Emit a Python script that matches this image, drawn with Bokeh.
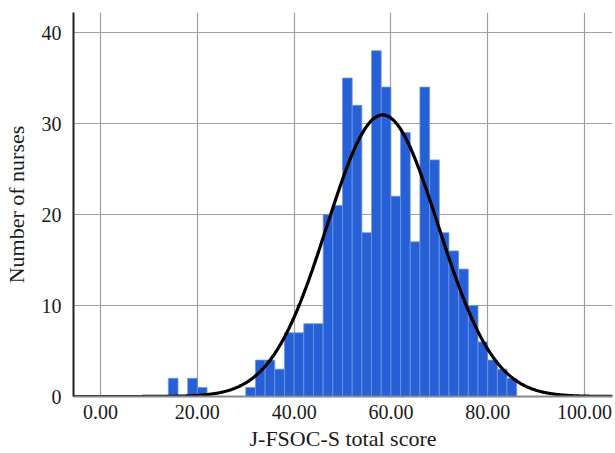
import numpy as np
from bokeh.plotting import figure
from bokeh.models import FixedTicker, PrintfTickFormatter, Range1d
from bokeh.embed import file_html
from bokeh.resources import INLINE

# ---- data ----
bin_width = 2
bin_left = [14, 18, 20, 30, 32, 34, 36, 38, 40, 42, 44, 46, 48, 50, 52, 54, 56,
            58, 60, 62, 64, 66, 68, 70, 72, 74, 76, 78, 80, 82, 84]
counts = [2, 2, 1, 1, 4, 4, 3, 7, 7, 8, 8, 20, 21, 35, 32, 18, 38,
          34, 22, 29, 17, 34, 26, 18, 16, 14, 10, 6, 4, 3, 2]
x_ticks = [0, 20, 40, 60, 80, 100]
y_ticks = [0, 10, 20, 30, 40]
fit_mean = 58.3
fit_sd = 11.5

x_lo, x_hi = -5.6, 105.8
y_lo, y_hi = 0, 42.2

n_total = sum(counts)
FONT = "Liberation Serif"

p = figure(width=615, height=453, output_backend="svg", toolbar_location=None,
           x_range=Range1d(x_lo, x_hi), y_range=Range1d(y_lo, y_hi),
           min_border_left=73, min_border_right=3, min_border_top=12,
           min_border_bottom=56)
p.outline_line_color = None
p.background_fill_color = "white"

# bars
left = np.array(bin_left, dtype=float)
p.quad(left=left, right=left + bin_width, bottom=0, top=counts,
       fill_color="#2760D6", line_color="#6C97E6", line_width=0.8)

# normal curve
xs = np.linspace(x_lo, x_hi, 600)
ys = n_total * bin_width / (fit_sd * np.sqrt(2 * np.pi)) * np.exp(-0.5 * ((xs - fit_mean) / fit_sd) ** 2)
p.line(xs, ys, line_color="black", line_width=3.2)

# axes
p.xaxis.ticker = FixedTicker(ticks=x_ticks)
p.yaxis.ticker = FixedTicker(ticks=y_ticks)
p.xaxis.formatter = PrintfTickFormatter(format="%.2f")
p.xgrid.ticker = FixedTicker(ticks=x_ticks)
p.ygrid.ticker = FixedTicker(ticks=y_ticks[1:])
for g in (p.xgrid, p.ygrid):
    g.grid_line_color = "#A0A0A0"
    g.grid_line_width = 1.2
    g.level = "underlay"

for ax in (p.xaxis, p.yaxis):
    ax.major_tick_line_color = None
    ax.minor_tick_line_color = None
    ax.major_label_text_font = FONT
    ax.major_label_text_font_size = "20px"
    ax.major_label_text_color = "#1a1a1a"
    ax.axis_label_text_font = FONT
    ax.axis_label_text_font_size = "22px"
    ax.axis_label_text_font_style = "normal"
    ax.axis_label_text_color = "#1a1a1a"

p.xaxis.axis_label = "J-FSOC-S total score"
p.yaxis.axis_label = "Number of nurses"
p.xaxis.axis_line_color = "#888888"
p.xaxis.axis_line_width = 2
p.yaxis.axis_line_color = "#222222"
p.yaxis.axis_line_width = 2
p.xaxis.major_label_standoff = 2
p.xaxis.axis_label_standoff = 4
p.yaxis.major_label_standoff = 6
p.yaxis.axis_label_standoff = 10

open("out.html", "w").write(file_html(p, INLINE))
